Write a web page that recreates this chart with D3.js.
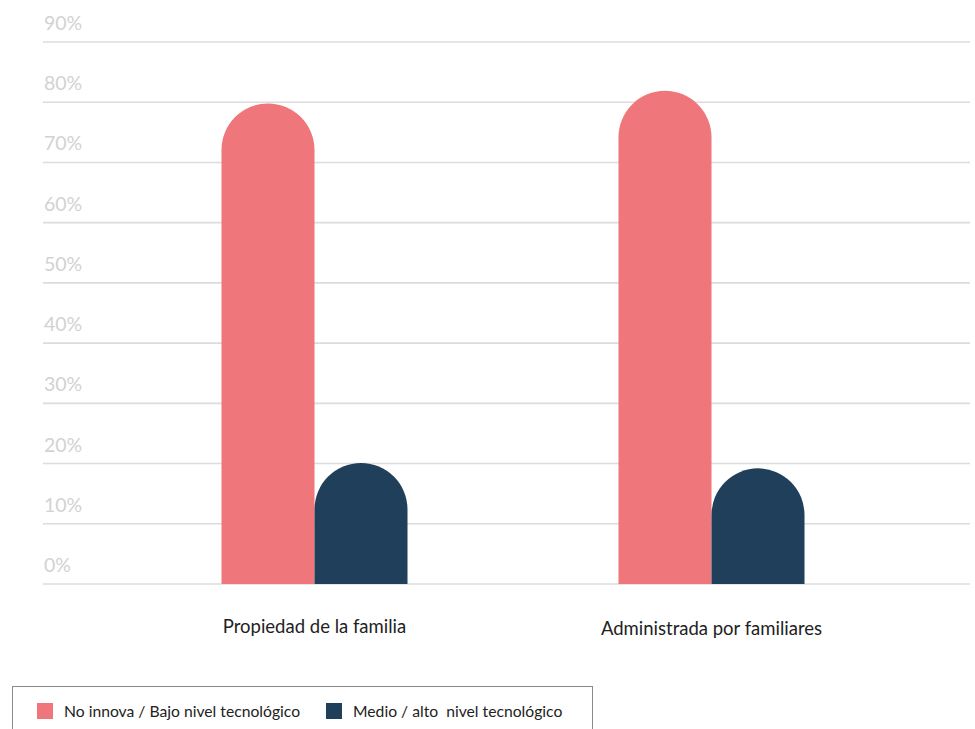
<!DOCTYPE html>
<html lang="es">
<head>
<meta charset="utf-8">
<script src="https://cdn.jsdelivr.net/npm/d3@7"></script>
<style>
  body { margin: 0; background: #fff; font-family: Lato, "Open Sans", sans-serif; }
  .grid line { stroke: #dcdcdc; stroke-width: 1.6; }
  .ylab { fill: #d2d2d2; font-size: 19.5px; }
  .xlab { fill: #222; font-size: 18.5px; }
  .legtxt { fill: #222; font-size: 15.7px; }
</style>
</head>
<body>
<script>
// data
var categories = ["Propiedad de la familia", "Administrada por familiares"];
var series = ["No innova / Bajo nivel tecnológico", "Medio / alto  nivel tecnológico"];
var bajo = [79.8, 81.9];
var medioAlto = [20.1, 19.2];
var yTicks = [0, 10, 20, 30, 40, 50, 60, 70, 80, 90];
var colors = ["#ef767a", "#1f3f5b"];

var W = 975, H = 729;
var svg = d3.select("body").append("svg")
  .attr("width", W)
  .attr("height", H);

// scales
var y = d3.scaleLinear().domain([0, 90]).range([584, 42]);
var x0 = d3.scaleBand().domain(categories).range([116, 910]);
var barW = 93;
var x1 = d3.scaleBand().domain(series)
  .range([x0.bandwidth() / 2 - barW, x0.bandwidth() / 2 + barW]);

// gridlines
var grid = svg.append("g").attr("class", "grid");
grid.selectAll("line").data(yTicks).enter().append("line")
  .attr("x1", 43).attr("x2", 970)
  .attr("y1", function(d) { return y(d); })
  .attr("y2", function(d) { return y(d); });

// y labels sit above each line
svg.selectAll(".ylab").data(yTicks).enter().append("text")
  .attr("class", "ylab")
  .attr("x", 44)
  .attr("y", function(d) { return y(d) - 12; })
  .text(function(d) { return d + "%"; });

// bars with round tops
function roundTop(x, w, top, base) {
  var r = w / 2;
  var p = d3.path();
  p.moveTo(x, base);
  p.lineTo(x, top + r);
  p.arc(x + r, top + r, r, Math.PI, 0);
  p.lineTo(x + w, base);
  p.closePath();
  return p.toString();
}

var rows = categories.map(function(c, i) {
  return { cat: c, vals: [bajo[i], medioAlto[i]] };
});

var groups = svg.selectAll(".grp").data(rows).enter().append("g")
  .attr("class", "grp")
  .attr("transform", function(d) { return "translate(" + x0(d.cat) + ",0)"; });

groups.selectAll("path")
  .data(function(d) { return d.vals.map(function(v, j) { return { s: series[j], v: v, j: j }; }); })
  .enter().append("path")
  .attr("fill", function(d) { return colors[d.j]; })
  .attr("d", function(d) {
    return roundTop(x1(d.s), x1.bandwidth(), y(d.v), y(0));
  });

// category labels
svg.selectAll(".xlab").data(categories).enter().append("text")
  .attr("class", "xlab")
  .attr("text-anchor", "middle")
  .attr("x", function(d) { return x0(d) + x0.bandwidth() / 2; })
  .attr("y", function(d, i) { return 633 + i * 2; })
  .text(function(d) { return d; });

// legend
var leg = svg.append("g");
leg.append("rect")
  .attr("x", 12.5).attr("y", 686.5)
  .attr("width", 580).attr("height", 60)
  .attr("fill", "none").attr("stroke", "#8a8a8a").attr("stroke-width", 1);

var legX = [37, 326];
series.forEach(function(s, i) {
  leg.append("rect")
    .attr("x", legX[i]).attr("y", 703)
    .attr("width", 16).attr("height", 16)
    .attr("fill", colors[i]);
  leg.append("text")
    .attr("class", "legtxt")
    .attr("x", legX[i] + 27).attr("y", 717)
    .attr("xml:space", "preserve")
    .style("white-space", "pre")
    .text(s);
});
</script>
</body>
</html>
